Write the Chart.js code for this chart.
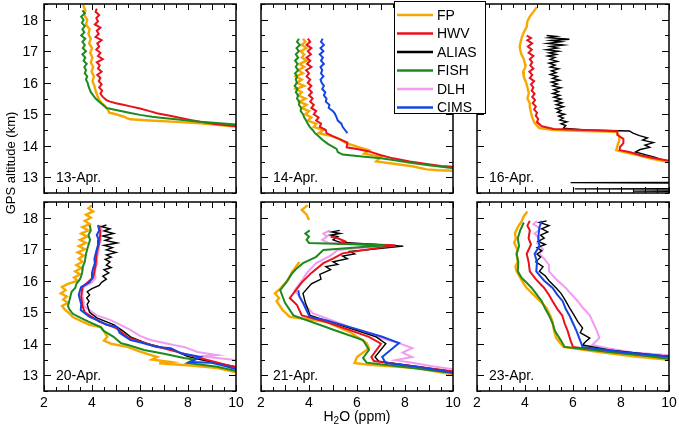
<!DOCTYPE html>
<html>
<head>
<meta charset="utf-8">
<script src="https://cdn.jsdelivr.net/npm/chart.js@4.4.1/dist/chart.umd.min.js"></script>
<style>
  html, body { margin: 0; padding: 0; background: #fff; }
  #wrap { position: relative; width: 679px; height: 429px; }
  #wrap canvas { position: absolute; left: 0; top: 0; }
</style>
</head>
<body>
<div id="wrap">
  <canvas id="c0" width="679" height="429"></canvas>
  <canvas id="c1" width="679" height="429"></canvas>
  <canvas id="c2" width="679" height="429"></canvas>
  <canvas id="c3" width="679" height="429"></canvas>
  <canvas id="c4" width="679" height="429"></canvas>
  <canvas id="c5" width="679" height="429"></canvas>
</div>
<script>
// flights and instruments
const flights = ['13-Apr.', '14-Apr.', '16-Apr.', '20-Apr.', '21-Apr.', '23-Apr.'];
const instruments = ['FP', 'HWV', 'ALIAS', 'FISH', 'DLH', 'CIMS'];
const xTicks = [2, 4, 6, 8, 10];
const yTicks = [13, 14, 15, 16, 17, 18];

// profiles as [H2O ppm, altitude km]; null = gap
const fp13 = [[3.63,18.47],[3.72,18.3],[3.68,18.15],[3.8,18.0],[3.75,17.85],[3.9,17.7],[3.85,17.55],[3.95,17.4],[3.88,17.25],[4.0,17.1],[3.92,16.95],[4.02,16.8],[3.95,16.65],[4.05,16.5],[3.98,16.35],[4.08,16.2],[4.02,16.05],[4.1,15.9],[4.15,15.75],[4.22,15.6],[4.3,15.45],[4.4,15.35],[4.55,15.25],[4.68,15.12],[4.72,15.05],[5.0,15.0],[5.35,14.92],[5.45,14.88],[5.6,14.84],[6.4,14.8],[7.7,14.75],[8.5,14.71],[9.3,14.66],[10.2,14.6]];
const hwv13 = [[4.2,18.35],[4.15,18.25],[4.3,18.15],[4.18,18.05],[4.25,17.95],[4.12,17.85],[4.35,17.75],[4.2,17.65],[4.28,17.55],[4.15,17.45],[4.4,17.35],[4.22,17.25],[4.3,17.15],[4.18,17.05],[4.35,16.95],[4.25,16.85],[4.45,16.75],[4.2,16.65],[4.32,16.55],[4.25,16.45],[4.4,16.35],[4.22,16.25],[4.35,16.15],[4.28,16.05],[4.4,15.95],[4.3,15.85],[4.42,15.75],[4.35,15.65],[4.45,15.55],[4.6,15.45],[4.75,15.4],[5.0,15.35],[5.3,15.3],[5.6,15.25],[6.0,15.18],[6.4,15.1],[6.7,15.03],[7.2,14.96],[7.7,14.88],[8.1,14.82],[8.5,14.76],[9.2,14.68],[10.2,14.6]];
const fish13 = [[3.6,18.3],[3.7,18.2],[3.55,18.1],[3.65,18.0],[3.58,17.9],[3.7,17.8],[3.6,17.7],[3.68,17.6],[3.55,17.5],[3.72,17.4],[3.6,17.3],[3.7,17.2],[3.62,17.1],[3.75,17.0],[3.6,16.9],[3.72,16.8],[3.65,16.7],[3.78,16.6],[3.68,16.5],[3.75,16.4],[3.7,16.3],[3.8,16.2],[3.75,16.1],[3.82,16.0],[3.85,15.9],[3.9,15.8],[3.95,15.7],[4.05,15.6],[4.15,15.5],[4.3,15.4],[4.45,15.3],[4.6,15.2],[4.9,15.15],[5.2,15.1],[5.6,15.04],[6.0,14.98],[6.5,14.92],[6.95,14.88],[7.5,14.84],[7.95,14.8],[8.5,14.76],[9.2,14.72],[10.2,14.66]];

const fp14 = [[3.75,17.4],[3.85,17.3],[3.7,17.2],[3.9,17.1],[3.65,17.0],[3.8,16.9],[3.7,16.8],[3.9,16.7],[3.6,16.6],[3.8,16.5],[3.55,16.4],[3.75,16.3],[3.45,16.2],[3.7,16.1],[3.5,16.0],[3.8,15.9],[3.45,15.8],[3.7,15.7],[3.55,15.6],[3.85,15.5],[3.6,15.4],[3.9,15.3],[3.7,15.2],[4.0,15.1],[3.85,15.0],[4.1,14.9],[3.95,14.8],[4.3,14.7],[4.2,14.6],[4.6,14.5],[4.4,14.4],[5.0,14.3],[5.3,14.2],[5.55,14.08],[6.1,13.95],[6.5,13.86],[6.3,13.75],[7.0,13.65],[6.8,13.5],[7.6,13.42],[8.3,13.35],[8.9,13.25],[9.4,13.22],[10.2,13.2]];
const hwv14 = [[3.95,17.4],[4.05,17.3],[3.9,17.2],[4.1,17.1],[3.95,17.0],[4.08,16.9],[3.9,16.8],[4.05,16.7],[3.92,16.6],[4.1,16.5],[3.88,16.4],[4.0,16.3],[3.9,16.2],[4.05,16.1],[3.95,16.0],[4.1,15.9],[3.98,15.8],[4.12,15.7],[4.0,15.6],[4.15,15.5],[4.05,15.4],[4.2,15.3],[4.1,15.2],[4.3,15.1],[4.2,15.0],[4.4,14.9],[4.3,14.8],[4.5,14.7],[4.45,14.6],[4.7,14.5],[4.73,14.4],[5.0,14.3],[5.3,14.2],[5.6,14.1],[5.57,13.95],[6.0,13.9],[6.5,13.82],[7.0,13.7],[7.5,13.6],[8.2,13.5],[8.9,13.42],[9.5,13.36],[10.2,13.32]];
const fish14 = [[3.58,17.4],[3.5,17.3],[3.62,17.2],[3.48,17.1],[3.58,17.0],[3.45,16.9],[3.55,16.8],[3.42,16.7],[3.52,16.6],[3.45,16.5],[3.55,16.4],[3.42,16.3],[3.5,16.2],[3.45,16.1],[3.5,16.0],[3.4,15.9],[3.52,15.8],[3.45,15.7],[3.55,15.6],[3.5,15.5],[3.6,15.4],[3.58,15.3],[3.68,15.2],[3.65,15.1],[3.75,15.0],[3.8,14.9],[3.88,14.8],[3.95,14.7],[4.03,14.6],[4.15,14.5],[4.25,14.4],[4.4,14.3],[4.57,14.18],[4.8,14.05],[5.15,13.9],[5.2,13.8],[5.4,13.72],[6.2,13.66],[7.0,13.6],[7.5,13.55],[8.3,13.45],[9.0,13.38],[9.85,13.3],[10.2,13.28]];
const cims14 = [[4.57,17.4],[4.5,17.3],[4.62,17.2],[4.48,17.1],[4.6,17.0],[4.45,16.9],[4.58,16.8],[4.5,16.7],[4.62,16.6],[4.48,16.5],[4.55,16.4],[4.5,16.3],[4.6,16.2],[4.48,16.1],[4.53,16.0],[4.62,15.9],[4.55,15.8],[4.68,15.7],[4.62,15.6],[4.73,15.5],[4.7,15.4],[4.85,15.3],[4.82,15.2],[5.0,15.1],[5.07,15.03],[5.15,14.9],[5.2,14.8],[5.35,14.7],[5.4,14.6],[5.5,14.5],[5.6,14.4]];

const fp16 = [[4.49,18.4],[4.35,18.25],[4.2,18.1],[4.1,17.95],[4.07,17.77],[3.95,17.6],[3.87,17.45],[3.82,17.3],[3.78,17.15],[3.8,17.04],[3.85,16.9],[3.95,16.75],[4.0,16.6],[4.02,16.5],[3.92,16.35],[3.95,16.18],[4.05,16.0],[4.1,15.85],[4.16,15.67],[4.1,15.5],[4.2,15.35],[4.2,15.23],[4.25,15.05],[4.3,14.9],[4.4,14.72],[4.6,14.56],[5.2,14.5],[6.5,14.47],[7.8,14.44],[7.93,14.3],[7.93,14.18],[7.85,14.0],[7.8,13.86],[8.2,13.78],[8.7,13.7],[9.2,13.6],[9.6,13.54],[10.2,13.46]];
const hwv16 = [[4.07,17.5],[4.25,17.42],[4.1,17.35],[4.3,17.25],[4.12,17.15],[4.28,17.05],[4.15,16.95],[4.35,16.85],[4.2,16.75],[4.3,16.65],[4.22,16.55],[4.35,16.45],[4.18,16.35],[4.3,16.25],[4.2,16.15],[4.38,16.05],[4.25,15.95],[4.35,15.85],[4.28,15.75],[4.4,15.65],[4.3,15.55],[4.42,15.45],[4.32,15.35],[4.45,15.25],[4.38,15.15],[4.5,15.05],[4.45,14.95],[4.55,14.85],[4.5,14.75],[4.7,14.62],[5.2,14.53],[6.5,14.5],[7.85,14.46],[7.85,14.34],[8.1,14.22],[8.1,14.08],[7.95,13.95],[7.95,13.86],[8.35,13.8],[8.8,13.7],[9.4,13.6],[10.2,13.5]];
const alias16 = [[4.9,17.5],[5.3,17.47],[5.0,17.43],[5.85,17.38],[5.1,17.34],[5.5,17.3],[4.95,17.25],[5.6,17.2],[5.05,17.15],[5.35,17.1],[4.9,17.05],[5.4,17.0],[5.0,16.95],[5.3,16.9],[4.95,16.85],[5.25,16.8],[5.05,16.74],[5.35,16.68],[5.0,16.62],[5.25,16.56],[5.05,16.5],[5.4,16.44],[5.1,16.38],[5.3,16.32],[5.05,16.26],[5.35,16.2],[5.15,16.14],[5.45,16.08],[5.1,16.02],[5.35,15.96],[5.15,15.9],[5.5,15.84],[5.2,15.78],[5.4,15.72],[5.15,15.66],[5.45,15.6],[5.2,15.54],[5.5,15.48],[5.25,15.42],[5.55,15.36],[5.3,15.3],[5.6,15.24],[5.3,15.18],[5.5,15.12],[5.35,15.06],[5.65,15.0],[5.4,14.94],[5.6,14.88],[5.45,14.82],[5.75,14.76],[5.5,14.7],[5.7,14.64],[5.6,14.56],[6.5,14.5],[8.35,14.47],[8.5,14.4],[8.77,14.32],[9.1,14.25],[8.9,14.18],[9.35,14.1],[9.0,14.02],[9.2,13.95],[8.8,13.88],[8.6,13.8],[9.0,13.72],[9.4,13.64],[9.7,13.56],[10.3,13.48],[12,13.3],[12,12.84],[5.9,12.83],[12,12.81],[12,12.64],[6.07,12.63],[12,12.62],[12,12.57],[8.5,12.56],[12,12.55]];

const fp20 = [[4.0,18.4],[3.85,18.3],[4.05,18.2],[3.75,18.1],[3.95,18.0],[3.7,17.9],[3.9,17.8],[3.6,17.7],[3.85,17.6],[3.55,17.5],[3.8,17.4],[3.5,17.3],[3.75,17.2],[3.45,17.1],[3.7,17.0],[3.4,16.9],[3.65,16.8],[3.45,16.7],[3.6,16.6],[3.35,16.5],[3.55,16.4],[3.3,16.3],[3.5,16.2],[3.25,16.1],[3.4,16.0],[3.0,15.9],[2.75,15.8],[2.9,15.7],[2.7,15.6],[2.95,15.5],[2.8,15.4],[3.0,15.3],[2.75,15.2],[2.85,15.1],[3.0,15.0],[3.2,14.85],[3.6,14.7],[3.9,14.6],[4.36,14.53],[4.5,14.4],[4.64,14.22],[4.5,14.1],[4.8,14.0],[5.47,13.9],[6.0,13.75],[6.72,13.58],[6.5,13.5],[7.28,13.42],[6.8,13.38],[8.25,13.3],[9.22,13.23],[10.2,13.06]];
const hwv20 = [[4.3,17.75],[4.35,17.5],[4.3,17.2],[4.2,16.9],[4.15,16.5],[4.05,16.1],[3.6,15.8],[3.55,15.5],[3.6,15.2],[3.7,15.0],[4.3,14.7],[5.0,14.5],[5.5,14.2],[6.5,13.95],[7.5,13.75],[8.5,13.55],[10.2,13.2]];
const alias20 = [[4.6,17.77],[4.4,17.72],[4.75,17.65],[4.5,17.58],[4.9,17.5],[4.45,17.42],[4.8,17.35],[4.55,17.28],[5.05,17.2],[4.5,17.12],[4.85,17.05],[4.6,16.98],[5.0,16.9],[4.6,16.82],[4.8,16.75],[4.55,16.68],[4.75,16.6],[4.6,16.5],[4.8,16.42],[4.5,16.35],[4.7,16.25],[4.45,16.15],[4.6,16.05],[4.4,15.95],[4.3,15.85],[4.0,15.75],[3.8,15.65],[3.9,15.55],[3.78,15.45],[3.88,15.35],[3.8,15.25],[3.85,15.12],[3.9,15.0],[4.2,14.82],[4.92,14.6],[5.3,14.4],[5.6,14.22],[6.3,14.0],[7.4,13.8],[7.97,13.6],[8.5,13.5],[9.78,13.3],[10.2,13.25]];
const fish20 = [[3.9,17.77],[3.95,17.6],[3.85,17.45],[3.92,17.3],[3.85,17.13],[3.8,17.0],[3.75,16.85],[3.72,16.7],[3.7,16.6],[3.62,16.45],[3.6,16.3],[3.55,16.15],[3.5,16.05],[3.35,15.9],[3.3,15.77],[3.15,15.65],[3.1,15.5],[3.05,15.35],[3.0,15.2],[3.05,15.1],[3.2,14.95],[3.53,14.82],[3.85,14.7],[4.36,14.53],[4.5,14.4],[4.9,14.22],[5.2,14.02],[5.5,13.96],[6.17,13.8],[7.0,13.68],[7.83,13.55],[8.25,13.5],[7.97,13.39],[9.22,13.27],[10.2,13.1]];
const dlh20 = [[4.35,17.77],[4.4,17.6],[4.3,17.45],[4.38,17.3],[4.3,17.15],[4.28,17.0],[4.25,16.85],[4.2,16.7],[4.22,16.55],[4.15,16.4],[4.12,16.25],[4.15,16.08],[4.0,15.95],[3.65,15.8],[3.6,15.65],[3.6,15.5],[3.65,15.35],[3.67,15.2],[4.2,14.9],[4.78,14.75],[5.6,14.44],[6.0,14.25],[6.44,14.12],[7.4,13.96],[7.83,13.9],[8.4,13.74],[9.22,13.64],[8.53,13.6],[9.78,13.5],[10.2,13.45]];
const cims20 = [[4.25,17.77],[4.3,17.6],[4.2,17.45],[4.28,17.3],[4.25,17.13],[4.2,17.0],[4.15,16.85],[4.1,16.7],[4.12,16.55],[4.05,16.4],[4.0,16.25],[4.0,16.08],[3.9,15.95],[3.55,15.8],[3.5,15.7],[3.45,15.55],[3.5,15.4],[3.55,15.25],[3.53,15.07],[3.9,14.85],[4.36,14.7],[4.6,14.6],[5.05,14.53],[5.15,14.35],[5.6,14.12],[6.0,14.05],[6.7,13.9],[7.28,13.86],[7.7,13.7],[8.53,13.58],[8.1,13.42],[8.94,13.4],[9.5,13.3],[10.2,13.15]];

const fp21 = [[3.95,18.4],[3.7,18.25],[3.9,18.1],[4.0,17.93],null,[3.6,16.6],[3.3,16.28],[3.1,16.0],[2.8,15.75],[2.58,15.6],[2.75,15.45],[2.65,15.35],[2.9,15.07],[3.2,14.85],[4.7,14.7],[5.7,14.37],[6.4,14.02],[6.5,13.86],[6.0,13.58],[5.9,13.39],[6.5,13.33],[8.47,13.23],[10.2,13.0]];
const hwv21 = [[4.9,17.4],[5.2,17.35],[5.5,17.25],[5.3,17.18],[7.6,17.13],[5.4,16.87],[5.0,16.7],[4.6,16.56],[4.1,16.25],[3.7,15.95],[3.35,15.6],[3.2,15.45],[3.5,15.23],[3.7,14.9],[4.7,14.7],[6.5,14.22],[7.0,14.0],[6.6,13.58],[6.7,13.45],[8.6,13.26],[10.2,13.1]];
const alias21 = [[5.28,17.6],[4.95,17.55],[5.3,17.5],[4.9,17.45],[5.2,17.4],[5.0,17.3],[5.3,17.22],[7.93,17.1],[5.7,16.93],[5.9,16.85],[5.4,16.78],[5.6,16.7],[5.0,16.6],[5.2,16.52],[4.7,16.45],[4.9,16.35],[4.45,16.2],[4.5,16.05],[4.1,15.9],[3.75,15.6],[3.85,15.3],[4.05,14.9],[4.85,14.7],[6.8,14.22],[7.2,14.0],[6.75,13.58],[6.9,13.45],[8.6,13.26],[10.2,13.1]];
const fish21 = [[4.03,17.6],[3.85,17.5],[4.0,17.4],[3.9,17.3],[4.0,17.2],[7.2,17.13],[4.6,16.98],[4.3,16.76],[3.75,16.56],[3.5,16.4],[3.3,16.24],[3.05,15.95],[2.8,15.7],[2.9,15.5],[3.0,15.3],[3.35,14.9],[4.7,14.53],[5.1,14.42],[6.25,14.12],[6.5,13.8],[6.25,13.55],[6.4,13.4],[8.3,13.23],[10.2,13.05]];
const dlh21 = [[4.87,17.6],[4.6,17.5],[4.75,17.4],[4.55,17.3],[4.8,17.2],[7.4,17.13],[5.2,16.98],[4.9,16.8],[4.3,16.56],[4.1,16.4],[3.9,16.24],[3.7,16.0],[3.5,15.8],[3.4,15.7],[3.6,15.5],[3.75,15.3],[4.15,14.97],[5.1,14.7],[6.8,14.22],[7.75,14.02],[8.3,13.86],[7.9,13.72],[8.3,13.58],[7.6,13.48],[8.3,13.4],[9.2,13.28],[10.2,13.17]];
const cims21 = [[3.55,15.7],[3.6,15.5],[3.75,15.3],[3.9,15.05],[4.03,14.85],[4.7,14.75],[6.1,14.44],[7.05,14.22],[7.75,14.02],[7.4,13.8],[7.05,13.58],[7.2,13.39],[8.6,13.26],[10.2,13.05]];

const fp23 = [[4.1,18.2],[3.95,18.05],[3.87,17.9],[3.7,17.7],[3.58,17.5],[3.62,17.35],[3.55,17.2],[3.68,17.0],[3.65,16.85],[3.7,16.6],[3.6,16.45],[3.65,16.3],[3.8,16.1],[3.95,15.9],[4.07,15.77],[4.3,15.6],[4.5,15.45],[4.7,15.3],[4.9,15.13],[5.05,14.9],[5.15,14.7],[5.2,14.45],[5.3,14.18],[5.6,13.9],[7.1,13.74],[8.47,13.6],[10.2,13.48]];
const hwv23 = [[4.2,17.9],[4.1,17.75],[4.2,17.6],[4.15,17.35],[4.25,17.15],[4.07,16.85],[4.15,16.6],[4.2,16.3],[4.45,16.05],[4.8,15.77],[5.0,15.55],[5.15,15.35],[5.35,15.1],[5.55,14.9],[5.65,14.65],[5.78,14.4],[5.9,14.1],[6.0,13.9],[7.8,13.72],[9.3,13.6],[10.2,13.52]];
const alias23 = [[4.9,17.9],[4.6,17.85],[5.0,17.75],[4.7,17.65],[4.95,17.55],[4.65,17.45],[4.8,17.35],[4.55,17.25],[4.85,17.15],[4.5,17.05],[4.7,16.95],[4.5,16.85],[4.65,16.75],[4.45,16.6],[4.75,16.45],[4.6,16.3],[4.85,16.15],[5.0,16.0],[5.3,15.77],[5.5,15.6],[5.7,15.35],[5.85,15.15],[6.05,14.9],[6.2,14.7],[6.4,14.5],[6.3,14.35],[6.7,14.18],[6.5,14.05],[6.4,13.96],[7.5,13.8],[9.0,13.68],[10.2,13.58]];
const fish23 = [[3.95,17.85],[3.8,17.6],[3.7,17.35],[3.75,17.1],[3.65,16.85],[3.72,16.6],[3.7,16.3],[3.85,16.1],[4.05,15.95],[4.28,15.77],[4.5,15.55],[4.7,15.35],[4.85,15.1],[5.0,14.9],[5.15,14.65],[5.25,14.4],[5.5,14.1],[5.65,13.9],[7.5,13.74],[9.2,13.6],[10.2,13.5]];
const dlh23 = [[4.5,17.9],[4.35,17.8],[4.65,17.65],[4.4,17.5],[4.6,17.35],[4.5,17.2],[4.75,17.0],[4.6,16.85],[4.8,16.7],[5.0,16.5],[5.0,16.3],[5.3,16.05],[5.7,15.77],[5.9,15.6],[6.2,15.35],[6.4,15.15],[6.7,14.9],[6.85,14.65],[7.0,14.4],[7.1,14.18],[6.8,13.96],[7.5,13.85],[8.5,13.72],[10.2,13.62]];
const cims23 = [[4.7,17.9],[4.6,17.7],[4.55,17.35],[4.6,17.1],[4.4,16.85],[4.5,16.6],[4.47,16.3],[4.8,16.0],[5.15,15.77],[5.35,15.55],[5.57,15.35],[5.7,15.1],[5.85,14.9],[6.0,14.65],[6.15,14.4],[6.3,14.1],[6.4,13.9],[8.05,13.74],[9.7,13.62],[10.2,13.6]];

const colors = { FP: '#f7a800', HWV: '#e8121c', ALIAS: '#000000', FISH: '#1d8a1d', DLH: '#f29cf0', CIMS: '#1446e4' };
const widths = { FP: 2.4, HWV: 2, ALIAS: 1.4, FISH: 2, DLH: 2, CIMS: 2 };

// per flight: which instruments flew (drawn top first)
const profiles = [
  { CIMS: null, FISH: fish13, HWV: hwv13, FP: fp13 },
  { CIMS: cims14, FISH: fish14, HWV: hwv14, FP: fp14 },
  { HWV: hwv16, FP: fp16, ALIAS: alias16 },
  { CIMS: cims20, FISH: fish20, HWV: hwv20, FP: fp20, ALIAS: alias20, DLH: dlh20 },
  { CIMS: cims21, FISH: fish21, HWV: hwv21, FP: fp21, ALIAS: alias21, DLH: dlh21 },
  { CIMS: cims23, FISH: fish23, HWV: hwv23, FP: fp23, ALIAS: alias23, DLH: dlh23 }
];

const FONT = '"Liberation Sans", Arial, Helvetica, sans-serif';
const W = 679, H = 429, PW = 192, PH = 189;
const boxes = [[44, 4], [261, 4], [477, 4], [44, 202], [261, 202], [477, 202]];

function toPoints(arr) {
  return arr.map(p => p ? { x: p[0], y: p[1] } : { x: null, y: null });
}

const framePlugin = {
  id: 'frame',
  afterDatasetsDraw(chart, args, opts) {
    const { ctx, chartArea: a, scales: { x, y } } = chart;
    ctx.save();
    ctx.strokeStyle = '#000';
    ctx.lineWidth = 1.5;
    ctx.strokeRect(a.left, a.top, a.width, a.height);
    ctx.lineWidth = 1;
    ctx.beginPath();
    for (let v = 2; v <= 10.001; v += 0.5) {
      const px = Math.round(x.getPixelForValue(v)) + 0.5;
      const len = Number.isInteger(v) ? 6 : 4;
      ctx.moveTo(px, a.bottom); ctx.lineTo(px, a.bottom - len);
      ctx.moveTo(px, a.top); ctx.lineTo(px, a.top + len);
    }
    for (let v = 12.5; v <= 18.501; v += 0.5) {
      const py = Math.round(y.getPixelForValue(v)) + 0.5;
      const len = Number.isInteger(v) ? 7 : 4;
      ctx.moveTo(a.left, py); ctx.lineTo(a.left + len, py);
      ctx.moveTo(a.right, py); ctx.lineTo(a.right - len, py);
    }
    ctx.stroke();
    ctx.fillStyle = '#000';
    ctx.font = '14px ' + FONT;
    if (opts.yLabels) {
      ctx.textAlign = 'right';
      ctx.textBaseline = 'middle';
      yTicks.forEach(v => ctx.fillText(String(v), a.left - 6, y.getPixelForValue(v) + 1));
    }
    if (opts.xLabels) {
      ctx.textAlign = 'center';
      ctx.textBaseline = 'top';
      xTicks.forEach(v => ctx.fillText(String(v), x.getPixelForValue(v), a.bottom + 5));
    }
    ctx.textAlign = 'left';
    ctx.textBaseline = 'middle';
    ctx.fillText(opts.title, a.left + 12, y.getPixelForValue(13) + 1);
    ctx.restore();
  }
};

const pagePlugin = {
  id: 'page',
  afterDraw(chart) {
    const ctx = chart.ctx;
    ctx.save();
    ctx.fillStyle = '#000';
    // y title
    ctx.font = '13px ' + FONT;
    ctx.translate(11, 163);
    ctx.rotate(-Math.PI / 2);
    ctx.textAlign = 'center';
    ctx.textBaseline = 'middle';
    ctx.fillText('GPS altitude (km)', 0, 0);
    ctx.setTransform(1, 0, 0, 1, 0, 0);
    // x title with subscript
    ctx.textAlign = 'left';
    ctx.textBaseline = 'alphabetic';
    const a = 'H', b = '2', c = 'O (ppm)';
    ctx.font = '14px ' + FONT;
    const wa = ctx.measureText(a).width, wc = ctx.measureText(c).width;
    ctx.font = '10px ' + FONT;
    const wb = ctx.measureText(b).width;
    let x0 = 357 - (wa + wb + wc) / 2;
    ctx.font = '14px ' + FONT;
    ctx.fillText(a, x0, 421);
    ctx.font = '10px ' + FONT;
    ctx.fillText(b, x0 + wa, 424);
    ctx.font = '14px ' + FONT;
    ctx.fillText(c, x0 + wa + wb, 421);
    // legend box
    ctx.fillStyle = '#fff';
    ctx.fillRect(394, 1, 91, 112);
    ctx.strokeStyle = '#000';
    ctx.lineWidth = 1;
    ctx.strokeRect(394.5, 1.5, 91, 112);
    ctx.font = '14px ' + FONT;
    ctx.textBaseline = 'middle';
    instruments.forEach((name, i) => {
      const ly = 15 + i * 18.5;
      ctx.strokeStyle = colors[name];
      ctx.lineWidth = 2.5;
      ctx.beginPath();
      ctx.moveTo(397, ly); ctx.lineTo(433, ly);
      ctx.stroke();
      ctx.fillStyle = '#000';
      ctx.fillText(name, 437, ly + 1);
    });
    ctx.restore();
  }
};

flights.forEach((title, i) => {
  const [left, top] = boxes[i];
  const prof = profiles[i];
  const datasets = Object.keys(prof).filter(k => prof[k]).map(k => ({
    label: k,
    data: toPoints(prof[k]),
    borderColor: colors[k],
    borderWidth: widths[k],
    pointRadius: 0,
    fill: false,
    tension: 0,
    spanGaps: false
  }));
  const plugins = [framePlugin];
  if (i === flights.length - 1) plugins.push(pagePlugin);
  new Chart(document.getElementById('c' + i), {
    type: 'line',
    data: { datasets },
    plugins,
    options: {
      responsive: false,
      animation: false,
      devicePixelRatio: 1,
      events: [],
      layout: { padding: { left: left, top: top, right: W - left - PW, bottom: H - top - PH } },
      scales: {
        x: { type: 'linear', min: 2, max: 10, display: false },
        y: { type: 'linear', min: 12.5, max: 18.5, display: false }
      },
      plugins: {
        legend: { display: false },
        tooltip: { enabled: false },
        frame: { title: title, yLabels: i % 3 === 0, xLabels: i >= 3 }
      }
    }
  });
});
</script>
</body>
</html>
